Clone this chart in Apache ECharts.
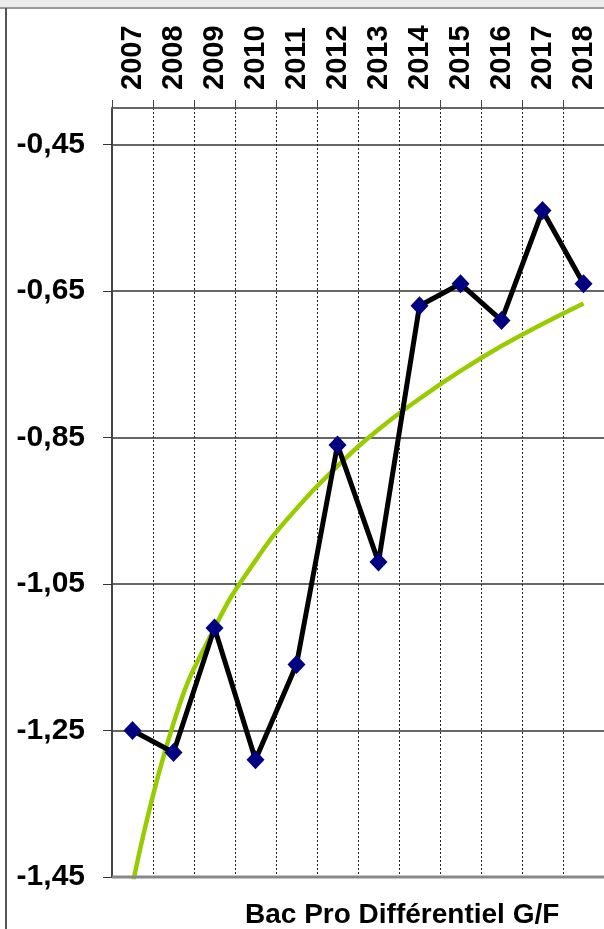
<!DOCTYPE html>
<html>
<head>
<meta charset="utf-8">
<script src="https://cdn.jsdelivr.net/npm/echarts@6/dist/echarts.min.js"></script>
<style>
  html, body { margin: 0; padding: 0; background: #fff; }
  #chart { width: 604px; height: 929px; }
</style>
</head>
<body>
<div id="chart"></div>
<script>
const categories = ['2007','2008','2009','2010','2011','2012','2013','2014','2015','2016','2017','2018'];
const diffValues = [-1.25, -1.28, -1.11, -1.29, -1.16, -0.86, -1.02, -0.67, -0.64, -0.69, -0.54, -0.64];
const trendValues = [-1.462, -1.240, -1.110, -1.018, -0.947, -0.889, -0.839, -0.797, -0.759, -0.725, -0.695, -0.667];
const titleText = 'Bac Pro Différentiel G/F';

const FONT = '"Liberation Sans", Arial, sans-serif';
const chart = echarts.init(document.getElementById('chart'), null, { renderer: 'canvas' });
chart.setOption({
  animation: false,
  backgroundColor: '#fff',
  title: {
    text: titleText,
    left: 240, top: 896,
    textStyle: { fontFamily: FONT, fontSize: 28, fontWeight: 'bold', color: '#000' }
  },
  graphic: [
    { type: 'rect', shape: { x: 0, y: 0, width: 604, height: 8 }, style: { fill: '#ececec' }, silent: true },
    { type: 'line', shape: { x1: 0, y1: 8, x2: 604, y2: 8 }, style: { stroke: '#9a9a9a', lineWidth: 2 }, silent: true },
    { type: 'line', shape: { x1: 6, y1: 8, x2: 6, y2: 929 }, style: { stroke: '#555', lineWidth: 2 }, silent: true },
    { type: 'line', shape: { x1: 112, y1: 877, x2: 604, y2: 877 }, style: { stroke: '#888', lineWidth: 3 }, silent: true, z: 10 }
  ],
  grid: { left: 112, top: 108, right: -7, bottom: 52, containLabel: false },
  xAxis: {
    type: 'category',
    position: 'top',
    data: categories,
    boundaryGap: true,
    axisLine: { show: true, lineStyle: { color: '#666', width: 2 } },
    axisTick: { show: true, length: 8, inside: false, lineStyle: { color: '#444', width: 1 } },
    axisLabel: { rotate: -90, margin: 18, fontFamily: FONT, fontSize: 29, fontWeight: 'bold', color: '#000' },
    splitLine: { show: true, lineStyle: { color: '#222', width: 1, type: [2, 2] } }
  },
  yAxis: {
    type: 'value',
    min: -1.45, max: -0.40, interval: 0.2,
    axisLine: { show: true, lineStyle: { color: '#444', width: 2 } },
    axisTick: { show: true, length: 9, lineStyle: { color: '#333', width: 1 } },
    axisLabel: {
      showMaxLabel: false,
      margin: 27,
      fontFamily: FONT, fontSize: 30, fontWeight: 'bold', color: '#000',
      formatter: v => v.toFixed(2).replace('.', ',')
    },
    splitLine: { show: true, lineStyle: { color: '#333', width: 1.5 } }
  },
  series: [
    {
      name: 'trend',
      type: 'line',
      data: trendValues,
      smooth: true,
      showSymbol: false,
      symbol: 'none',
      clip: true,
      lineStyle: { color: '#99cc00', width: 4.5 },
      z: 2
    },
    {
      name: 'diff',
      type: 'line',
      data: diffValues,
      symbol: 'diamond',
      symbolSize: [18, 19],
      clip: true,
      lineStyle: { color: '#000', width: 5 },
      itemStyle: { color: '#000080' },
      z: 3
    }
  ]
});
</script>
</body>
</html>
